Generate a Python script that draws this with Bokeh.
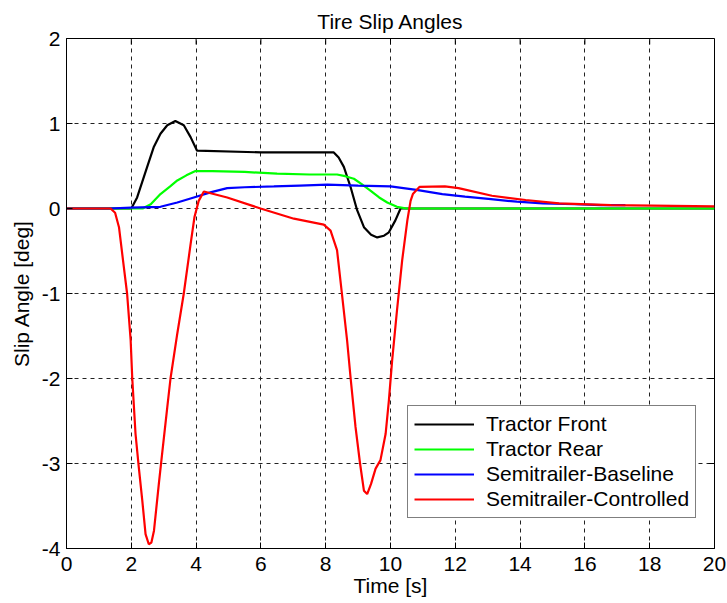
import math
from bokeh.plotting import figure
from bokeh.models import Range1d, FixedTicker, Legend, LegendItem
from bokeh.embed import file_html
from bokeh.resources import INLINE

# ---- data ----
x_ticks = [0, 2, 4, 6, 8, 10, 12, 14, 16, 18, 20]
y_ticks = [-4, -3, -2, -1, 0, 1, 2]

black_t = [0, 2.0, 2.18, 2.49, 2.69, 2.9, 3.11, 3.36, 3.62, 3.83, 4.03, 6.0, 8.25, 8.4, 8.56,
           8.77, 8.97, 9.18, 9.4, 9.59, 9.8, 9.95, 10.15, 10.31, 12.0, 20.0]
black_v = [0, 0, 0.13, 0.49, 0.72, 0.88, 0.98, 1.03, 0.98, 0.84, 0.68, 0.66, 0.66, 0.6, 0.49,
           0.25, -0.02, -0.22, -0.31, -0.34, -0.32, -0.28, -0.14, 0.0, 0.0, 0.0]

green_t = [0, 2.35, 2.6, 2.9, 3.2, 3.42, 3.7, 3.98, 4.5, 5.5, 6.5, 7.5, 8.35, 8.6, 8.87,
           9.1, 9.38, 9.65, 9.9, 10.2, 10.5, 20.0]
green_v = [0, 0, 0.05, 0.17, 0.26, 0.33, 0.39, 0.44, 0.44, 0.43, 0.41, 0.4, 0.4, 0.38, 0.35,
           0.29, 0.21, 0.13, 0.07, 0.02, 0.0, 0.0]

blue_t = [0, 1.3, 2.0, 2.9, 3.42, 3.93, 4.44, 4.96, 5.5, 6.4, 7.2, 8.05, 9.0, 10.0, 10.8,
          11.6, 12.3, 13.1, 13.9, 14.7, 15.7, 16.5, 17.25]
blue_v = [0, 0, 0.01, 0.02, 0.07, 0.13, 0.19, 0.24, 0.25, 0.26, 0.27, 0.28, 0.27, 0.26, 0.22,
          0.17, 0.14, 0.11, 0.08, 0.06, 0.05, 0.04, 0.04]

red_t = [0, 1.36, 1.5, 1.62, 1.77, 1.87, 1.98, 2.03, 2.13, 2.23, 2.34, 2.44, 2.54, 2.62, 2.70,
         2.85, 2.95, 3.11, 3.21, 3.42, 3.62, 3.83, 3.95, 4.08, 4.24, 4.96, 5.99, 7.02, 7.94,
         8.15, 8.35, 8.5, 8.66, 8.77, 8.92, 9.06, 9.18, 9.28, 9.4, 9.54, 9.69, 9.85, 9.95,
         10.05, 10.2, 10.36, 10.52, 10.62, 10.69, 10.9, 11.68, 12.1, 13.13, 14.17, 15.2,
         16.8, 20.0]
red_v = [0, 0, -0.05, -0.22, -0.69, -1.0, -1.55, -2.0, -2.65, -3.04, -3.44, -3.83, -3.95,
         -3.93, -3.79, -3.24, -2.89, -2.34, -2.0, -1.47, -1.0, -0.42, -0.1, 0.09, 0.2, 0.13,
         0.0, -0.12, -0.19, -0.26, -0.49, -1.0, -1.55, -2.0, -2.57, -3.0, -3.32, -3.36, -3.24,
         -3.06, -2.96, -2.65, -2.26, -1.79, -1.2, -0.61, -0.14, 0.09, 0.17, 0.255, 0.26, 0.24,
         0.15, 0.10, 0.06, 0.04, 0.025]

series = [
    ("Tractor Front", black_t, black_v, "#000000"),
    ("Tractor Rear", green_t, green_v, "#00FF00"),
    ("Semitrailer-Baseline", blue_t, blue_v, "#0000FF"),
    ("Semitrailer-Controlled", red_t, red_v, "#FF0000"),
]

FONT = "Liberation Sans"
FS = "21px"
TXT = "#000000"

p = figure(width=727, height=603, output_backend="svg", toolbar_location=None,
           x_range=Range1d(0, 20), y_range=Range1d(-4, 2),
           min_border_left=66, min_border_right=13, min_border_top=38, min_border_bottom=55,
           title="Tire Slip Angles")
p.background_fill_color = "white"
p.border_fill_color = "white"
p.outline_line_color = "#000000"
p.outline_line_width = 1

p.title.align = "center"
p.title.text_font = FONT
p.title.text_font_size = FS
p.title.text_font_style = "normal"
p.title.text_color = TXT
p.title.standoff = 12

for ax in (p.xaxis[0], p.yaxis[0]):
    ax.major_label_text_font = FONT
    ax.major_label_text_font_size = FS
    ax.major_label_text_font_style = "normal"
    ax.major_label_text_color = TXT
    ax.axis_label_text_font = FONT
    ax.axis_label_text_font_size = FS
    ax.axis_label_text_font_style = "normal"
    ax.axis_label_text_color = TXT
    ax.major_tick_in = 6
    ax.major_tick_out = 0
    ax.minor_tick_line_color = None
    ax.axis_line_color = "#000000"
    ax.major_tick_line_color = "#000000"

p.xaxis[0].ticker = FixedTicker(ticks=x_ticks)
p.yaxis[0].ticker = FixedTicker(ticks=y_ticks)
p.xaxis[0].major_label_overrides = {t: str(t) for t in x_ticks}
p.yaxis[0].major_label_overrides = {t: str(t) for t in y_ticks}
p.xaxis[0].axis_label = "Time [s]"
p.yaxis[0].axis_label = "Slip Angle [deg]"
p.xaxis[0].major_label_standoff = 8
p.xaxis[0].axis_label_standoff = 0
p.yaxis[0].major_label_standoff = 6
p.yaxis[0].axis_label_standoff = 6

# inward tick marks on the top and right edges of the frame
p.ray(x=x_ticks, y=[y_ticks[-1]] * len(x_ticks), length=6, length_units="screen",
      angle=-math.pi / 2, line_color="#000000", line_width=1)
p.ray(x=[x_ticks[-1]] * len(y_ticks), y=y_ticks, length=6, length_units="screen",
      angle=math.pi, line_color="#000000", line_width=1)

p.xgrid.ticker = FixedTicker(ticks=x_ticks)
p.ygrid.ticker = FixedTicker(ticks=y_ticks)
for g in (p.xgrid[0], p.ygrid[0]):
    g.grid_line_color = "#222222"
    g.grid_line_dash = "4 4"
    g.grid_line_width = 1

items = []
for name, t, v, c in series:
    r = p.line(t, v, line_color=c, line_width=2.2)
    items.append(LegendItem(label=name, renderers=[r]))

legend = Legend(items=items, location=(341, 30))
legend.label_text_font = FONT
legend.label_text_font_size = FS
legend.label_text_font_style = "normal"
legend.label_text_color = TXT
legend.glyph_width = 60
legend.glyph_height = 20
legend.label_height = 20
legend.spacing = 1
legend.padding = 6
legend.margin = 0
legend.label_standoff = 12
legend.border_line_color = "#000000"
legend.border_line_width = 1
legend.background_fill_alpha = 1.0
p.add_layout(legend, "center")

open("out.html", "w").write(file_html(p, INLINE))
